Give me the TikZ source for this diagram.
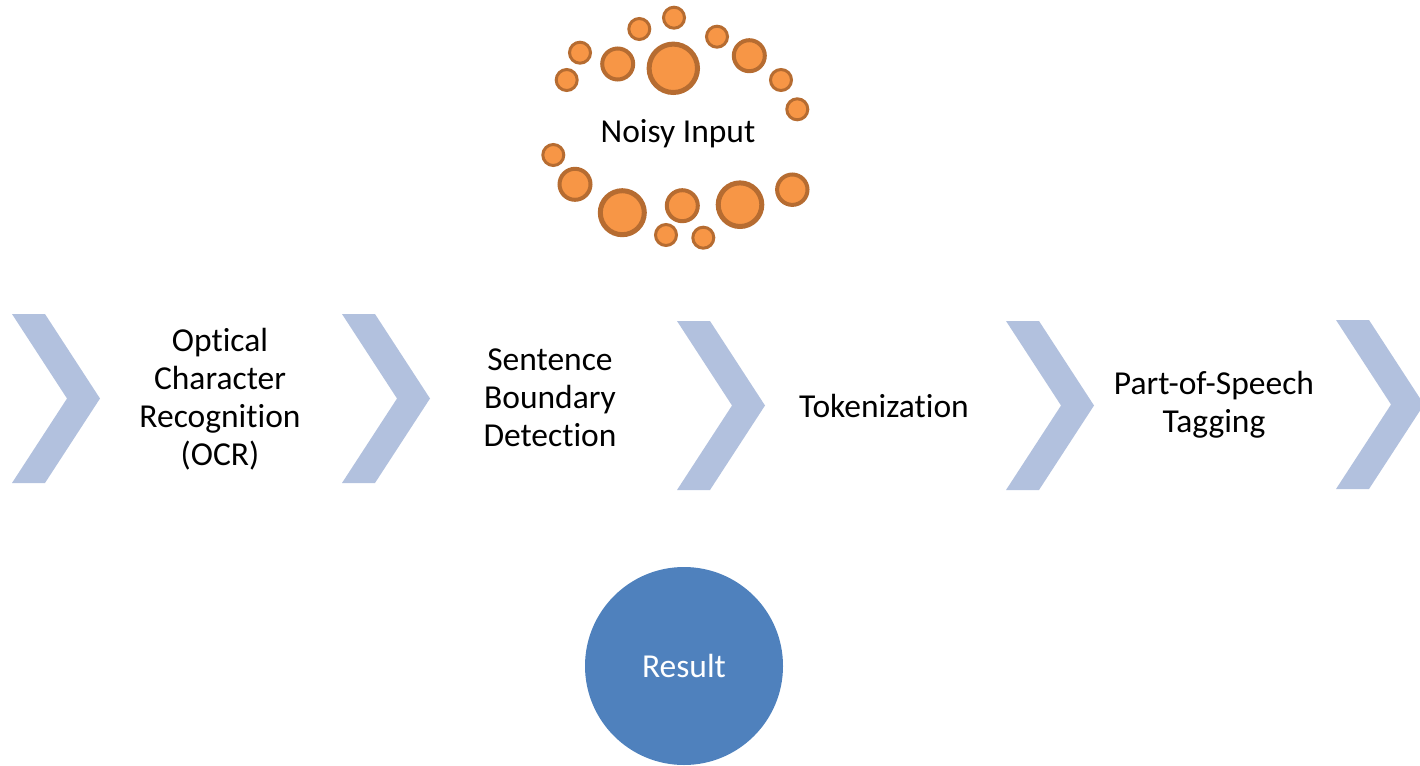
\documentclass[tikz,border=0pt]{standalone}
\usepackage{fontspec}
\setmainfont[Ligatures=NoCommon]{Carlito}
\definecolor{chevfill}{RGB}{178,193,222}
\definecolor{dotfill}{RGB}{247,150,70}
\definecolor{dotline}{RGB}{182,108,49}
\definecolor{resfill}{RGB}{79,129,189}
\tikzset{
  chevshape/.style={fill=chevfill, draw=none},
  label33/.style={align=center, inner sep=0pt, text=black,
    font=\fontsize{33.5}{38}\selectfont},
  dotS/.style={fill=dotfill, draw=dotline, line width=3pt},
  dotM/.style={fill=dotfill, draw=dotline, line width=4pt},
  dotL/.style={fill=dotfill, draw=dotline, line width=5pt},
  pics/chev/.style={code={
    \path[chevshape] (0,0) -- (33,0) -- (88,84.5) -- (33,169) -- (0,169)
      -- (55,84.5) -- cycle;
  }}
}
\begin{document}
\begin{tikzpicture}[x=1pt,y=-1pt]
\useasboundingbox (0,0) rectangle (1420,765);

% noise bubbles around the input label (centre, radius)
\foreach \cx/\cy/\r in {580/52.7/10.5, 566.7/80/10.5, 639.3/29/10.5, 674/17.7/10.5,
  717/36.7/10.5, 781/80/10.5, 797.3/109.3/10.5, 553.3/155/10.5,
  666/235/10.5, 703.3/237.7/10.5}
  \path[dotS] (\cx,\cy) circle[radius=\r];
\foreach \cx/\cy/\r in {617.7/64/15.5, 749.3/55.7/15.5, 575/184.3/15.5,
  682.3/205.7/15.5, 792.3/189.7/15.2}
  \path[dotM] (\cx,\cy) circle[radius=\r];
\foreach \cx/\cy/\r in {673.3/68.3/24.2, 622.3/212.7/22, 740/204.7/21.8}
  \path[dotL] (\cx,\cy) circle[radius=\r];

\node[label33] (noisy) at (678,134) {Noisy Input};

% pipeline chevrons
\pic at (12,314) {chev};
\pic at (342,314) {chev};
\pic at (677,321) {chev};
\pic at (1006,321) {chev};
\pic at (1336,320) {chev};

% stage labels
\node[label33] (ocr) at (220,399) {Optical\\Character\\Recognition\\(OCR)};
\node[label33] (sbd) at (550,398) {Sentence\\Boundary\\Detection};
\node[label33] (tok) at (884,406) {Tokenization};
\node[label33] (pos) at (1214,405) {Part-of-Speech\\Tagging};

% result
\node[circle, fill=resfill, minimum size=198pt, inner sep=0pt,
  text=white, font=\fontsize{33.5}{38}\selectfont] (result) at (684,666) {Result};
\end{tikzpicture}
\end{document}
